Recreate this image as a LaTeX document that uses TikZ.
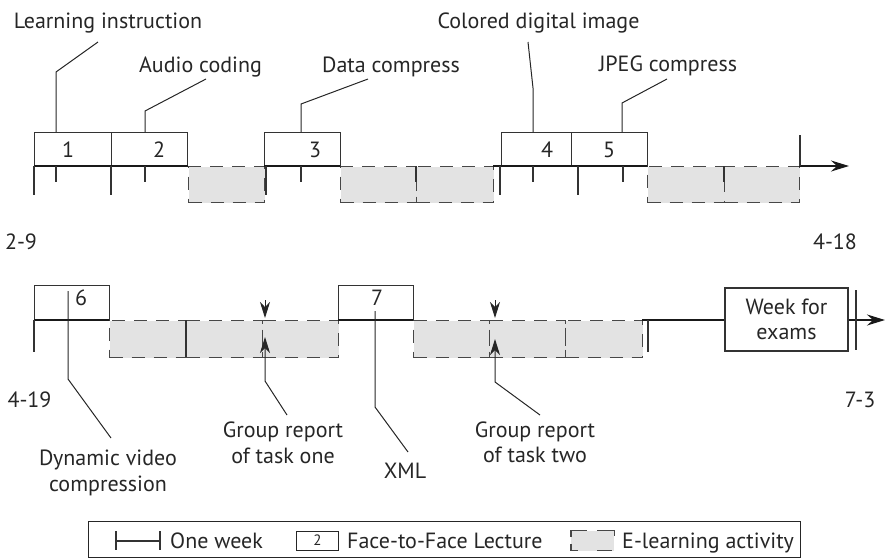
\documentclass[tikz,border=0pt]{standalone}
\usepackage{fontspec}
\setmainfont{PT Sans}
\usetikzlibrary{arrows.meta}
\begin{document}
\begin{tikzpicture}[x=1pt,y=-1pt,
  txt/.style={font=\fontsize{22}{25.5}\selectfont, inner sep=0pt, text=black!85},
  lect/.style={draw=black!80, line width=1.1pt, inner sep=0pt, anchor=north west},
  ebox/.style={draw=black!72, fill=black!11, line width=1.1pt, dash pattern=on 13pt off 9pt, inner sep=0pt, anchor=north west},
  axisline/.style={draw=black!90, line width=2.2pt},
  tk/.style={draw=black!80, line width=1.1pt},
  lead/.style={draw=black!85, line width=1pt},
  tip/.style={-{Stealth[length=16pt,width=10pt,inset=5pt]}},
]
\useasboundingbox (0,0) rectangle (885,558);

% ---------- top row: e-learning boxes
\node[ebox, minimum width=76pt, minimum height=36pt] (e1) at (188,166) {};
\node[ebox, minimum width=76pt, minimum height=36pt] (e2) at (340,166) {};
\node[ebox, minimum width=77pt, minimum height=36pt] (e3) at (416,166) {};
\node[ebox, minimum width=77pt, minimum height=36pt] (e4) at (647,166) {};
\node[ebox, minimum width=75pt, minimum height=36pt] (e5) at (724,166) {};

% lecture boxes top
\node[lect, minimum width=77pt, minimum height=34pt] (b1) at (34,132) {};
\node[lect, minimum width=76pt, minimum height=34pt] (b2) at (111,132) {};
\node[lect, minimum width=76pt, minimum height=34pt] (b3) at (264,132) {};
\node[lect, minimum width=70pt, minimum height=34pt] (b4) at (501,132) {};
\node[lect, minimum width=76pt, minimum height=34pt] (b5) at (571,132) {};

\node[txt, anchor=base] (n1) at (68,157) {1};
\node[txt, anchor=base] (n2) at (159,157) {2};
\node[txt, anchor=base] (n3) at (315,157) {3};
\node[txt, anchor=base] (n4) at (547,157) {4};
\node[txt, anchor=base] (n5) at (609,157) {5};

% axis top
\draw[axisline] (34,166) -- (188,166);
\draw[axisline] (264,166) -- (340,166);
\draw[axisline] (493,166) -- (647,166);
\draw[axisline, -{Stealth[length=18pt,width=11pt,inset=6pt]}] (799,166) -- (849,166);

% ticks top
\foreach \x in {34,111,266,500,578} \draw[tk] (\x,166) -- (\x,195);
\foreach \x in {56,145,301,416,533,623,724} \draw[tk] (\x,166) -- (\x,182);
\draw[tk] (800,135) -- (800,166);

% leaders top
\coordinate (l1a) at (56,72);  \coordinate (l1b) at (98,42);
\coordinate (l2a) at (145,111); \coordinate (l2b) at (206,79);
\coordinate (l3a) at (301,104); \coordinate (l3b) at (368,79);
\coordinate (l4a) at (533,88);  \coordinate (l4b) at (528,42);
\coordinate (l5a) at (622,103); \coordinate (l5b) at (667,79);
\draw[lead] (b1.north -| l1a) -- (l1a) -- (l1b);
\draw[lead] (b2.north -| l2a) -- (l2a) -- (l2b);
\draw[lead] (b3.north -| l3a) -- (l3a) -- (l3b);
\draw[lead] (b4.north -| l4a) -- (l4a) -- (l4b);
\draw[lead] (b5.north -| l5a) -- (l5a) -- (l5b);

\node[txt, anchor=base] (tLI) at (108,28) {Learning instruction};
\node[txt, anchor=base] (tAC) at (200.5,72) {Audio coding};
\node[txt, anchor=base] (tDC) at (391,72) {Data compress};
\node[txt, anchor=base] (tCD) at (538.5,28) {Colored digital image};
\node[txt, anchor=base] (tJP) at (668,71) {JPEG compress};

\node[txt, anchor=base] (d29) at (21,249) {2-9};
\node[txt, anchor=base] (d418) at (835,249) {4-18};

% ---------- bottom row
\node[ebox, minimum width=77pt, minimum height=37pt] (f1) at (109,320) {};
\node[ebox, minimum width=76pt, minimum height=37pt] (f2) at (186,320) {};
\node[ebox, minimum width=76pt, minimum height=37pt] (f3) at (262,320) {};
\node[ebox, minimum width=76pt, minimum height=37pt] (f4) at (413,320) {};
\node[ebox, minimum width=76pt, minimum height=37pt] (f5) at (489,320) {};
\node[ebox, minimum width=77pt, minimum height=37pt] (f6) at (565,320) {};
\draw[tk] (186,320) -- (186,357);

\node[lect, minimum width=75pt, minimum height=35pt] (b6) at (34,285) {};
\node[lect, minimum width=75pt, minimum height=35pt] (b7) at (338,285) {};
\node[txt, anchor=base] (n6) at (81,305) {6};
\node[txt, anchor=base] (n7) at (377,305) {7};

\draw[axisline] (34,320) -- (109,320);
\draw[axisline] (338,320) -- (413,320);
\draw[axisline, -{Stealth[length=18pt,width=11pt,inset=6pt]}] (642,320) -- (885,320);

\node[lect, fill=white, txt, align=center, anchor=center, minimum width=123pt, minimum height=63pt] (ex) at (786.5,319.5) {Week for\\exams};

\draw[tk] (34,320) -- (34,352);
\draw[tk] (648,320) -- (648,352);
\draw[tk] (856,290) -- (856,350);

% leaders bottom
\coordinate (l6s) at (68,291); \coordinate (l6a) at (68,379); \coordinate (l6b) at (111,438);
\coordinate (l7s) at (375,311); \coordinate (l7a) at (375,407); \coordinate (l7b) at (408,452);
\draw[lead] (l6s) -- (l6a) -- (l6b);
\draw[lead] (l7s) -- (l7a) -- (l7b);

\coordinate (g1t) at (265,300); \coordinate (g1m) at (265,318);
\coordinate (g1u) at (265,337); \coordinate (g1a) at (265,381); \coordinate (g1b) at (287,415);
\coordinate (g2t) at (495,300); \coordinate (g2m) at (495,318);
\coordinate (g2u) at (495,339); \coordinate (g2a) at (495,382); \coordinate (g2b) at (540,415);
\draw[lead, tip] (g1t) -- (g1m);
\draw[lead, tip] (g1b) -- (g1a) -- (g1u);
\draw[lead, tip] (g2t) -- (g2m);
\draw[lead, tip] (g2b) -- (g2a) -- (g2u);

\node[txt, anchor=base] (d419) at (29.5,407) {4-19};
\node[txt, anchor=base] (d73) at (860,407) {7-3};
\node[txt, align=center] (tDV) at (108,473) {Dynamic video\\compression};
\node[txt, align=center] (tG1) at (283,443) {Group report\\of task one};
\node[txt, anchor=base] (tX) at (405,478) {XML};
\node[txt, align=center] (tG2) at (535,442.5) {Group report\\of task two};

% ---------- legend
\node[draw=black!85, line width=1pt, minimum width=712pt, minimum height=36pt, anchor=north west, inner sep=0pt] (leg) at (88,520.5) {};
\coordinate (ow1) at (116,541); \coordinate (ow2) at (160,541);
\draw[tk] (ow1) -- (ow2);
\draw[tk] ([yshift=10pt]ow1) -- ([yshift=-9pt]ow1);
\draw[tk] ([yshift=10pt]ow2) -- ([yshift=-9pt]ow2);
\node[txt, anchor=base west] (lw) at (170,548) {One week};
\node[draw=black!85, line width=1pt, minimum width=42pt, minimum height=19pt, anchor=north west, inner sep=0pt, font=\fontsize{15}{15}\selectfont, text=black!85] (lb) at (296,530.5) {2};
\node[txt, anchor=base west] (lf) at (347,548) {Face-to-Face Lecture};
\node[fill=black!11, minimum width=43pt, minimum height=20pt, anchor=north west, inner sep=0pt] (le) at (571,530.5) {};
\draw[tk, draw=black!72] ([yshift=-6pt]le.north west) -- (le.north west) -- ([xshift=16pt]le.north west);
\draw[tk, draw=black!72] ([xshift=-17pt]le.north east) -- (le.north east) -- ([yshift=-5pt]le.north east);
\draw[tk, draw=black!72] ([yshift=7pt]le.south west) -- (le.south west) -- ([xshift=7pt]le.south west);
\draw[tk, draw=black!72] ([xshift=-17pt]le.south east) -- ([xshift=-2pt]le.south east);
\node[txt, anchor=base west] (la) at (622,548) {E-learning activity};
\end{tikzpicture}
\end{document}
